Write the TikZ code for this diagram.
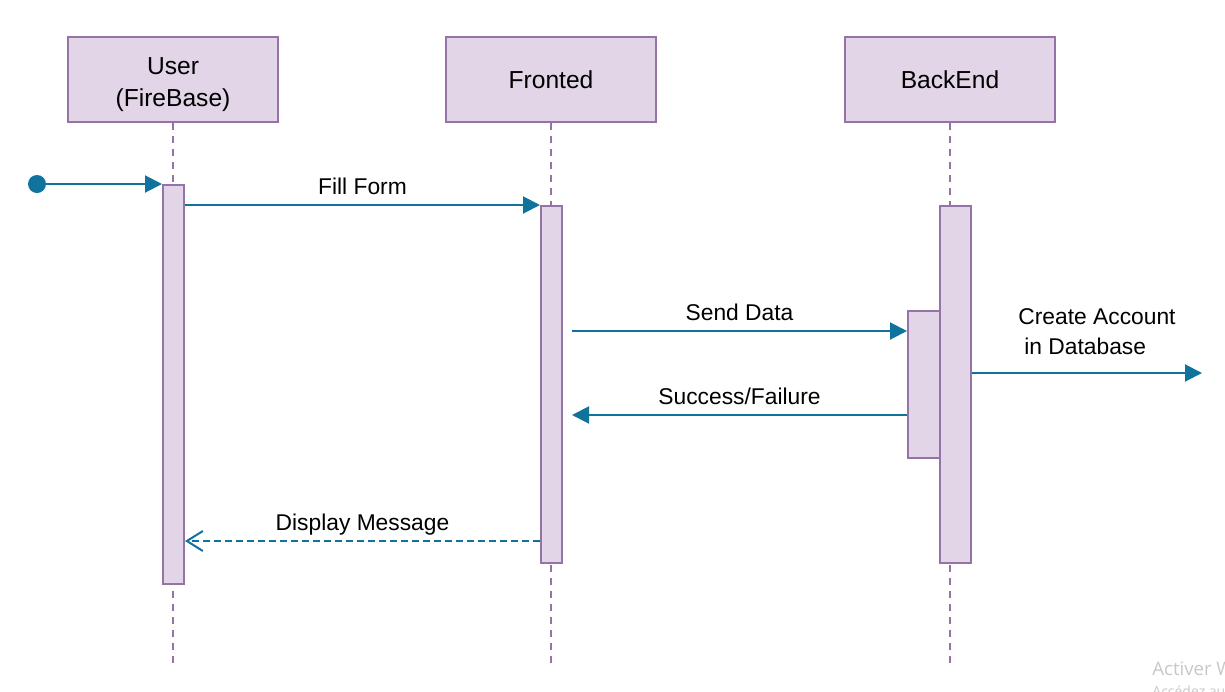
\documentclass[tikz,border=0pt]{standalone}
\usepackage{fontspec}
\setmainfont{Liberation Sans}
\newfontfamily\winfont{Open Sans}
\usetikzlibrary{arrows.meta,calc,positioning}

\definecolor{umlfill}{HTML}{E1D5E7}
\definecolor{umlborder}{HTML}{9673A6}
\definecolor{msgblue}{HTML}{10739E}

\tikzset{
    header/.style={draw=umlborder, fill=umlfill, line width=1pt, minimum width=105pt,
        minimum height=42.5pt, align=center, font=\fontsize{12.3}{16}\selectfont},
    lifeline/.style={draw=umlborder, line width=1pt, dash pattern=on 3.5pt off 3pt},
    activ/.style={draw=umlborder, fill=umlfill, line width=1pt, anchor=north,
        inner sep=0pt, minimum width=10.5pt},
    msg/.style={draw=msgblue, line width=1pt, -{Triangle[length=8.5pt,width=8.5pt]}},
    reply/.style={draw=msgblue, line width=1pt, dash pattern=on 3.5pt off 2pt,
        -{Straight Barb[length=8pt,width=10pt]}},
    msglabel/.style={anchor=base, yshift=5.5pt, font=\fontsize{11.4}{15}\selectfont},
}

\begin{document}
\begin{tikzpicture}[x=0.5pt, y=-0.5pt]
    \clip (0,0) rectangle (1225,691);
    \node[header] (user) at (173,79.5) {\rule{0pt}{14pt}User\\(FireBase)};
    \node[header] (front) at (551,79.5) {Fronted};
    \node[header] (back) at (950,79.5) {BackEnd};

    \coordinate (bottom) at (0,667);
    \draw[lifeline] (user.south) -- (user.south |- bottom);
    \draw[lifeline] (front.south) -- (front.south |- bottom);
    \draw[lifeline] (back.south) -- (back.south |- bottom);

    \node[activ, minimum height=199.5pt] (uact) at (173.5,184) {};
    \node[activ, minimum height=178.5pt] (fact) at (551.5,205) {};
    \node[activ, minimum height=178.5pt, minimum width=15.5pt] (bact) at (955.5,205) {};
    \node[activ, minimum height=73.5pt, minimum width=16pt] (bnest) at (924,310) {};

    \node[circle, fill=msgblue, inner sep=0pt, minimum size=9pt] (start) at (37,184) {};
    \draw[msg] (start) -- (uact.north west);
    \draw[msg] (uact.east |- fact.north) -- (fact.north west)
        node[msglabel, midway] {Fill Form};

    \coordinate (sendy) at (572,331);
    \draw[msg] (sendy) -- (sendy -| bnest.west) node[msglabel, midway] {Send Data};
    \coordinate (succy) at (572,415);
    \draw[msg] (succy -| bnest.west) -- (succy) node[msglabel, midway] {Success/Failure};

    \coordinate (db) at (1202,373);
    \draw[msg] (db -| bact.east) -- (db);
    \node[anchor=west, inner sep=0pt, align=left, font=\fontsize{11.4}{15}\selectfont]
        (lcreate) at (1018,332) {Create Account\\\hspace{3pt}in Database};

    \coordinate (dispy) at (0,541);
    \draw[reply] (fact.west |- dispy) -- (uact.east |- dispy)
        node[msglabel, midway] {Display Message};

    \node[anchor=base west, inner sep=0pt, text=black!22, font=\winfont\fontsize{9.3}{11}\selectfont]
        (wmone) at (1152,675) {Activer Windows};
    \node[anchor=base west, inner sep=0pt, text=black!22, font=\winfont\fontsize{7}{9}\selectfont]
        (wmtwo) at (1152,696) {Accédez aux paramètres pour activer Windows.};
\end{tikzpicture}
\end{document}
